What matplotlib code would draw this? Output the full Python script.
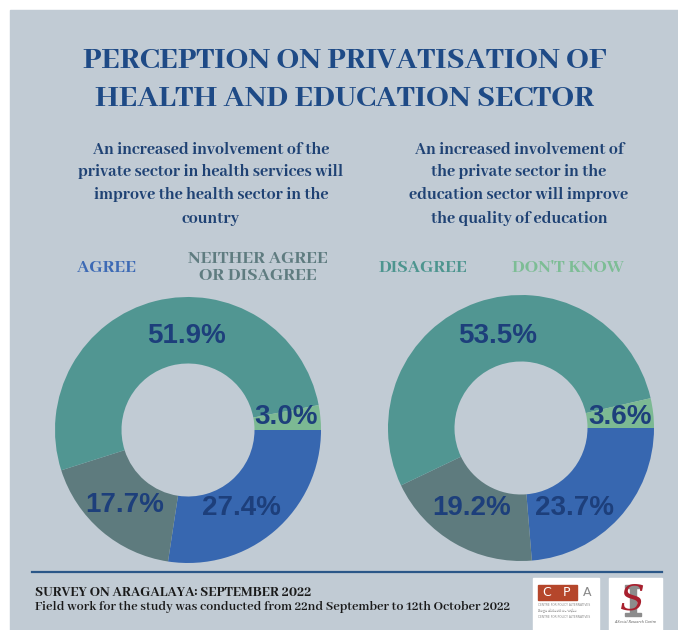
import matplotlib
matplotlib.use("Agg")
import matplotlib.pyplot as plt
from matplotlib.patches import Rectangle

W, H = 678, 630

# share of respondents (%), listed clockwise from 3 o'clock
categories = ["AGREE", "NEITHER AGREE\nOR DISAGREE", "DISAGREE", "DON'T KNOW"]
health = [27.4, 17.7, 51.9, 3.0]
education = [23.7, 19.2, 53.5, 3.6]

title = ["PERCEPTION ON PRIVATISATION OF", "HEALTH AND EDUCATION SECTOR"]
health_q = ["An increased involvement of the",
            "private sector in health services will",
            "improve the health sector in the",
            "country"]
education_q = ["An increased involvement of",
               "the private sector in the",
               "education sector will improve",
               "the quality of education"]
survey = "SURVEY ON ARAGALAYA: SEPTEMBER 2022"
fieldwork = "Field work for the study was conducted from 22nd September to 12th October 2022"

colors = ["#3767b0", "#5e7b7e", "#519692", "#7cb993"]
legend_colors = ["#3d6ab5", "#5f7c80", "#4d958f", "#7dbd95"]
bg_color = "#c1cbd4"
navy = "#1e4a86"
label_navy = "#1d3f7b"

TITLE_FONT = "Abhaya Libre ExtraBold"
BODY_FONT = "Abhaya Libre"
NUM_FONT = "Liberation Sans"


def fx(x):
    return x / W


def fy(y):
    return 1 - y / H


fig = plt.figure(figsize=(W / 100, H / 100), dpi=100)
fig.patch.set_facecolor("white")

# full-size axes in pixel units for the panel, rule and logos
bg = fig.add_axes([0, 0, 1, 1])
bg.set_xlim(0, W)
bg.set_ylim(H, 0)
bg.axis("off")
bg.add_patch(Rectangle((10, 10), W - 10, H - 10, color=bg_color, zorder=0))

for i, line in enumerate(title):
    fig.text(fx(345), fy(61 + 38 * i), line, family=TITLE_FONT, fontsize=24,
             color=navy, ha="center", va="center")

for lines, cx in [(health_q, 211), (education_q, 519)]:
    for i, line in enumerate(lines):
        fig.text(fx(cx), fy(149 + 23 * i), line, family=TITLE_FONT,
                 fontsize=12.7, color="#1f4274", ha="center", va="center")

legend_x = [107, 258, 423, 568]
for name, col, x in zip(categories, legend_colors, legend_x):
    fig.text(fx(x), fy(267), name, family=TITLE_FONT, fontsize=14, color=col,
             ha="center", va="center", linespacing=1.1)


def donut(cx, cy, r, values, offsets):
    ax = fig.add_axes([fx(cx - r), fy(cy + r), 2 * r / W, 2 * r / H])
    ax.pie(values, colors=colors, startangle=0, counterclock=False, radius=1,
           wedgeprops=dict(width=0.5, linewidth=0))
    ax.set_xlim(-1, 1)
    ax.set_ylim(-1, 1)
    ax.set_aspect("equal")
    ax.axis("off")
    for v, (dx, dy) in zip(values, offsets):
        ax.text(dx / r, -dy / r, f"{v:.1f}%", family=NUM_FONT, fontweight="bold",
                fontsize=20, color=label_navy, ha="center", va="center")


donut(188, 430, 133, health, [(53, 78), (-63, 75), (-1, -94), (98, -13)])
donut(521, 428, 133, education, [(54, 80), (-49, 80), (-23, -92), (99, -11)])

# footer rule and source notes
bg.plot([32, 662], [571.5, 571.5], color="#2b5788", lw=1.6)
bg.text(35, 592, survey, family=TITLE_FONT, fontsize=10.7, color="#1a1a1a",
        ha="left", va="center")
bg.text(35, 607, fieldwork, family=BODY_FONT, fontweight="bold", fontsize=10,
        color="#1a1a1a", ha="left", va="center")

# CPA logo
bg.add_patch(Rectangle((533, 578), 66, 52, color="white", zorder=2))
bg.add_patch(Rectangle((538, 585), 39, 15, color="#b5462b", zorder=3))
bg.text(547, 593, "C", family="DejaVu Sans", fontsize=9, color="white",
        ha="center", va="center", zorder=4)
bg.text(567, 593, "P", family="DejaVu Sans", fontsize=9, color="white",
        ha="center", va="center", zorder=4)
bg.text(587, 593, "A", family="DejaVu Sans", fontsize=9, color="#8a8a8a",
        ha="center", va="center", zorder=4)
bg.text(538, 605, "CENTRE FOR POLICY ALTERNATIVES", fontsize=2.2, color="#8a8a8a",
        ha="left", va="center", zorder=4)
bg.text(538, 611, "විකල්ප ප්‍රතිපත්ති කේන්ද්‍රය", family=BODY_FONT, fontsize=2.6,
        color="#8a8a8a", ha="left", va="center", zorder=4)
bg.text(538, 617, "CENTRE FOR POLICY ALTERNATIVES", fontsize=2.2, color="#8a8a8a",
        ha="left", va="center", zorder=4)

# Social Indicator logo: grey serif bar behind a red S
bg.add_patch(Rectangle((609, 578), 53, 52, color="white", zorder=2))
bg.add_patch(Rectangle((630, 587), 6, 27, color="#8c8c8c", zorder=3))
bg.add_patch(Rectangle((625, 585), 16, 3, color="#8c8c8c", zorder=3))
bg.add_patch(Rectangle((625, 613), 16, 3, color="#8c8c8c", zorder=3))
bg.text(632, 599, "S", family="DejaVu Serif", fontstyle="italic", fontsize=26,
        color="#a8202e", ha="center", va="center", zorder=4)
bg.text(635, 622, "A Social Research Centre", family="DejaVu Serif", fontstyle="italic",
        fontsize=2.3, color="#555555", ha="center", va="center", zorder=4)

fig.savefig("out.png", dpi=100, facecolor=fig.get_facecolor())
